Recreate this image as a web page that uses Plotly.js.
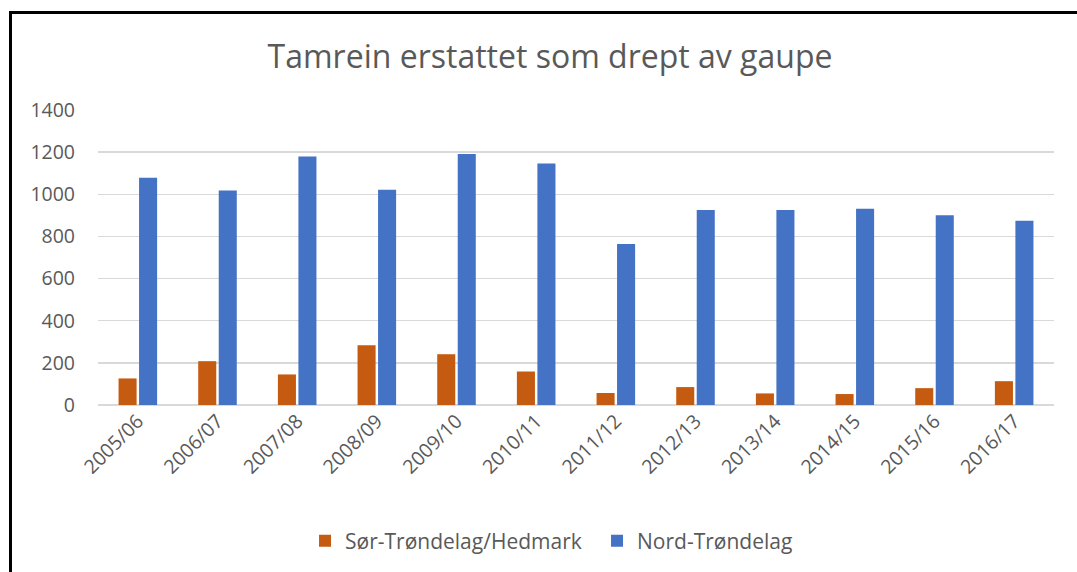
<!DOCTYPE html>
<html>
<head>
<meta charset="utf-8">
<script src="https://cdn.plot.ly/plotly-3.0.1.min.js"></script>
<style>
html,body{margin:0;padding:0;background:#fff;}
#chart{width:1077px;height:572px;}
#frame{position:absolute;left:9px;top:11px;right:-5px;bottom:-5px;border-left:3px solid #000;border-top:3px solid #000;pointer-events:none;}
</style>
</head>
<body>
<div id="chart"></div>
<div id="frame"></div>
<script>
const seasons = ["2005/06","2006/07","2007/08","2008/09","2009/10","2010/11","2011/12","2012/13","2013/14","2014/15","2015/16","2016/17"];
const sorTrondelagHedmark = [126, 208, 145, 284, 241, 159, 57, 85, 55, 52, 80, 113];
const nordTrondelag = [1078, 1018, 1179, 1021, 1191, 1146, 764, 925, 925, 931, 900, 875];
const yTicks = [0, 200, 400, 600, 800, 1000, 1200, 1400];

const font = "'Open Sans', 'Liberation Sans', sans-serif";
const textColor = "#595959";

const traces = [
  {type: "bar", name: "Sør-Trøndelag/Hedmark", x: seasons, y: sorTrondelagHedmark,
   marker: {color: "#C55A11"}, hoverinfo: "x+y"},
  {type: "bar", name: "Nord-Trøndelag", x: seasons, y: nordTrondelag,
   marker: {color: "#4472C4"}, hoverinfo: "x+y"}
];

const layout = {
  width: 1077, height: 572,
  paper_bgcolor: "#fff", plot_bgcolor: "#fff",
  margin: {l: 98, r: 23, t: 110, b: 166},
  font: {family: font, color: textColor, size: 19},
  title: {text: "Tamrein erstattet som drept av gaupe", font: {family: font, size: 32, color: textColor},
          x: 550/1077, xanchor: "center", xref: "container", y: 1 - 57/572, yanchor: "middle", yref: "container"},
  barmode: "group", bargap: 0.485, bargroupgap: 0.12,
  xaxis: {type: "category", tickangle: -45, showgrid: false, zeroline: false, showline: false,
          tickfont: {size: 19.5, color: textColor}, ticks: ""},
  yaxis: {range: [0, 1400], tickvals: yTicks, ticktext: yTicks.map(String), showgrid: true,
          gridcolor: "#D9D9D9", gridwidth: 1.3, zeroline: true, zerolinecolor: "#D9D9D9", zerolinewidth: 1.3,
          showline: false, ticks: "", ticklabelstandoff: 22, tickfont: {size: 19.5, color: textColor}},
  legend: {orientation: "h", x: 0.522, xanchor: "center", y: -135/296, yanchor: "middle",
           font: {size: 21, color: textColor}, itemclick: false, traceorder: "normal",
           itemwidth: 30, entrywidthmode: "pixels", entrywidth: 247},
  showlegend: true
};

Plotly.newPlot("chart", traces, layout, {staticPlot: true, displayModeBar: false});
</script>
</body>
</html>
